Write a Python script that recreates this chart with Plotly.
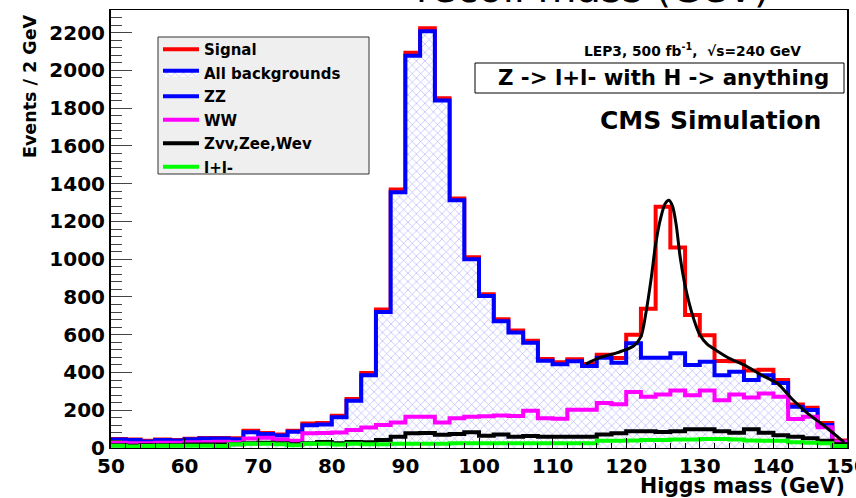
import plotly.graph_objects as go

# ---------------- data ----------------
bin_edges = [50 + 2 * i for i in range(51)]

all_backgrounds = [45, 42, 35, 42, 40, 46, 50, 50, 46, 83,
                   74, 66, 86, 120, 125, 163, 250, 385, 720, 1355,
                   2078, 2208, 1840, 1312, 1000, 805, 672, 612, 558, 462,
                   444, 460, 435, 478, 452, 555, 478, 478, 502, 439,
                   457, 386, 404, 360, 386, 344, 219, 201, 122, 33]

signal_only = [3, 3, 3, 3, 3, 3, 3, 3, 5, 8,
               5, 5, 5, 10, 8, 8, 10, 12, 14, 14,
               15, 15, 12, 10, 10, 10, 10, 10, 10, 10,
               10, 10, 10, 16, 25, 45, 260, 800, 560, 265,
               140, 75, 55, 50, 28, 16, 12, 12, 10, 7]

ww = [28, 25, 25, 28, 28, 30, 30, 33, 30, 50,
      54, 45, 38, 78, 80, 82, 96, 108, 122, 135,
      165, 165, 135, 158, 165, 168, 172, 170, 197, 157,
      155, 203, 203, 238, 232, 297, 272, 284, 305, 280,
      305, 253, 283, 267, 289, 272, 153, 165, 110, 33]

zvv_zee_wev = [15, 12, 15, 15, 15, 18, 18, 18, 20, 25,
               28, 25, 20, 25, 32, 25, 32, 30, 42, 60,
               78, 80, 70, 74, 84, 65, 72, 60, 64, 60,
               60, 60, 60, 72, 78, 89, 89, 85, 89, 99,
               99, 89, 81, 99, 81, 67, 60, 52, 39, 20]

ll = [12, 8, 10, 12, 12, 12, 12, 10, 20, 22,
      22, 20, 15, 22, 22, 18, 22, 20, 20, 22,
      22, 22, 22, 25, 25, 25, 25, 25, 25, 25,
      25, 25, 25, 38, 38, 40, 42, 42, 45, 45,
      48, 48, 45, 40, 38, 38, 30, 28, 25, 10]

fit_x = [114.5, 116.5, 118.8, 121.0, 122.0, 122.7, 123.4, 124.0, 124.7, 125.3,
         125.8, 126.3, 126.8, 127.3, 127.9, 128.5, 129.2, 130.0, 131.0, 132.3,
         134.0, 136.0, 138.3, 140.6, 142.4, 144.6, 146.9, 148.7, 149.6]
fit_y = [445, 480, 505, 540, 590, 720, 900, 1080, 1220, 1295,
         1312, 1280, 1180, 1020, 880, 775, 680, 600, 550, 515,
         475, 440, 388, 340, 265, 185, 118, 60, 30]

x_ticks = [50, 60, 70, 80, 90, 100, 110, 120, 130, 140, 150]
legend_names = ["Signal", "All backgrounds", "ZZ", "WW", "Zvv,Zee,Wev", "l+l-"]

# ---------------- figure ----------------
FONT = "DejaVu Sans"
W, H = 856, 498
ML, MR, MT, MB = 111, 9, 10, 50
PW, PH = W - ML - MR, H - MT - MB


def px(xp):
    return (xp - ML) / PW


def py(yp):
    return (H - MB - yp) / PH


def steps(vals):
    return list(vals) + [vals[-1]]


total = [b + s for b, s in zip(all_backgrounds, signal_only)]

fig = go.Figure()

fig.add_trace(go.Scatter(
    x=bin_edges, y=steps(total), mode="lines", line=dict(color="#ff0000", width=4, shape="hv"),
    name=legend_names[0], legendgroup="g1"))

fig.add_trace(go.Scatter(
    x=bin_edges, y=steps(all_backgrounds), mode="lines",
    line=dict(color="#0000ff", width=4, shape="hv"),
    fill="tozeroy", fillcolor="rgba(0,0,0,0)",
    fillpattern=dict(shape="x", fgcolor="#6a6aff", bgcolor="white", size=6, solidity=0.22),
    name=legend_names[1], legendgroup="g2"))

fig.add_trace(go.Scatter(
    x=[None], y=[None], mode="lines", line=dict(color="#0000ff", width=4),
    name=legend_names[2], legendgroup="g3"))

fig.add_trace(go.Scatter(
    x=bin_edges, y=steps(ww), mode="lines", line=dict(color="#ff00ff", width=4, shape="hv"),
    name=legend_names[3], legendgroup="g4"))

fig.add_trace(go.Scatter(
    x=bin_edges, y=steps(zvv_zee_wev), mode="lines", line=dict(color="#000000", width=4, shape="hv"),
    name=legend_names[4], legendgroup="g5"))

fig.add_trace(go.Scatter(
    x=bin_edges, y=steps(ll), mode="lines", line=dict(color="#00ff00", width=4, shape="hv"),
    name=legend_names[5], legendgroup="g6"))

fig.add_trace(go.Scatter(
    x=fit_x, y=fit_y, mode="lines", line=dict(color="#000000", width=3, shape="spline", smoothing=0.8),
    showlegend=False))

fig.update_layout(
    width=W, height=H,
    margin=dict(l=ML, r=MR, t=MT, b=MB, autoexpand=False),
    paper_bgcolor="white", plot_bgcolor="white",
    font=dict(family=FONT, color="black"),
    legend=dict(
        x=px(158), y=py(33), xanchor="left", yanchor="top",
        bgcolor="rgba(0,0,0,0)", borderwidth=0,
        font=dict(family=FONT, size=15, color="black", weight="bold"),
        tracegroupgap=1, itemwidth=36,
    ),
)

fig.update_xaxes(
    range=[50, 150], showgrid=False, zeroline=False, automargin=False,
    showline=True, linecolor="black", linewidth=1, mirror=True,
    ticks="inside", ticklen=10, tickcolor="black", tickvals=x_ticks,
    ticklabeloverflow="allow",
    tickfont=dict(family=FONT, size=20, weight="bold", color="black"),
    minor=dict(dtick=2, ticks="inside", ticklen=5, tickcolor="black"),
)
fig.update_yaxes(
    range=[0, 2320], showgrid=False, zeroline=False, automargin=False,
    showline=True, linecolor="black", linewidth=2, mirror=True,
    ticks="inside", ticklen=21, tickcolor="#444444", dtick=200, tick0=0,
    tickfont=dict(family=FONT, size=20, weight="bold", color="black"),
    minor=dict(dtick=40, ticks="inside", ticklen=11, tickcolor="#444444"),
)

ann = [
    dict(text="Higgs mass (GeV)", x=1, y=0, xref="paper", yref="paper",
         xanchor="right", yanchor="top", yshift=-24, showarrow=False,
         font=dict(family=FONT, size=20.5, weight="bold")),
    dict(text="Events / 2 GeV", x=0, y=1, xref="paper", yref="paper",
         xanchor="center", yanchor="top", xshift=-81, yshift=-2, textangle=-90, showarrow=False,
         font=dict(family=FONT, size=17.5, weight="bold")),
    dict(text="recoil mass (GeV)", x=px(593), y=1, xref="paper", yref="paper",
         xanchor="center", yanchor="middle", yshift=22, showarrow=False,
         font=dict(family=FONT, size=40)),
    dict(text="LEP3, 500 fb<sup>-1</sup>,  \u221As=240 GeV", x=px(692), y=py(50), xref="paper", yref="paper",
         xanchor="center", yanchor="middle", showarrow=False,
         font=dict(family=FONT, size=13.8, weight="bold")),
    dict(text="Z -> l+l- with H -> anything", x=px(663), y=py(77), xref="paper", yref="paper",
         xanchor="center", yanchor="middle", showarrow=False,
         font=dict(family=FONT, size=21.3, weight="bold")),
    dict(text="CMS Simulation", x=px(710), y=py(120), xref="paper", yref="paper",
         xanchor="center", yanchor="middle", showarrow=False,
         font=dict(family=FONT, size=25, weight="bold")),
]
fig.update_layout(annotations=ann)

# text box around the channel label
fig.add_shape(type="rect", xref="paper", yref="paper",
              x0=px(475), x1=px(844), y0=py(93), y1=py(63),
              line=dict(color="black", width=1), fillcolor="white", layer="above")
# legend frame
fig.add_shape(type="rect", xref="paper", yref="paper",
              x0=px(158), x1=px(369), y0=py(174), y1=py(37),
              line=dict(color="#333333", width=1), fillcolor="#efefef", layer="above")

fig.write_html("out.html")
